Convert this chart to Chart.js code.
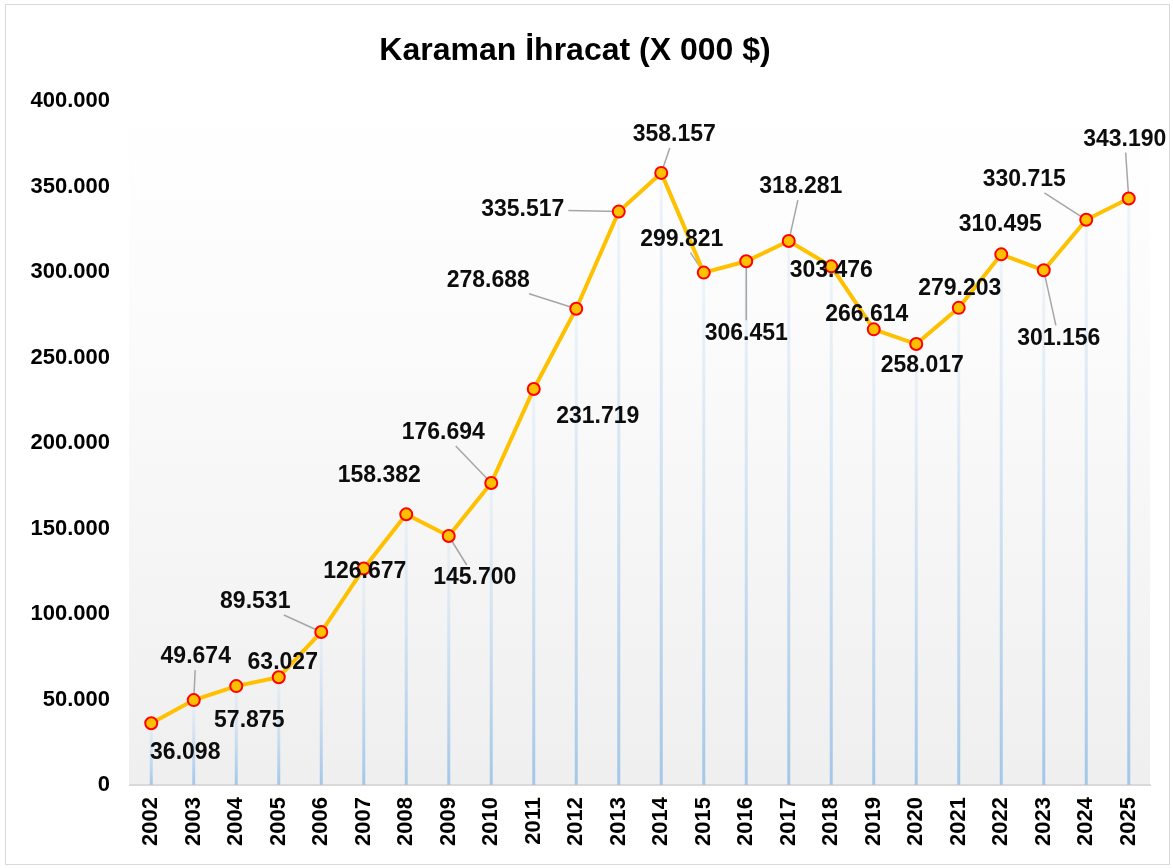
<!DOCTYPE html>
<html>
<head>
<meta charset="utf-8">
<script src="https://cdn.jsdelivr.net/npm/chart.js@4.4.1/dist/chart.umd.min.js"></script>
<style>
    html, body { margin: 0; padding: 0; background: #fff; }
    #wrap { position: absolute; left: 0; top: 0; width: 1173px; height: 868px; }
    #frame { position: absolute; left: 5px; top: 4px; width: 1165px; height: 861px; border: 1px solid #d9d9d9; box-sizing: border-box; pointer-events: none; }
    canvas { position: absolute; left: 0; top: 0; }
</style>
</head>
<body>
<div id="wrap">
    <canvas id="export-chart" width="1173" height="868"></canvas>
    <div id="frame"></div>
</div>
<script>
var years = ['2002', '2003', '2004', '2005', '2006', '2007', '2008', '2009', '2010', '2011', '2012', '2013',
             '2014', '2015', '2016', '2017', '2018', '2019', '2020', '2021', '2022', '2023', '2024', '2025'];
var exports = [36098, 49674, 57875, 63027, 89531, 126677, 158382, 145700, 176694, 231719, 278688, 335517,
               358157, 299821, 306451, 318281, 303476, 266614, 258017, 279203, 310495, 301156, 330715, 343190];
var yMin = 0;
var yMax = 400000;
var yStep = 50000;

// label placement (offset of label centre from its point) and whether a leader line is drawn
var labelOffsets = [[34, 29], [2, -43], [13, 35], [4, -15], [-66, -30], [1, 3], [-27, -39], [26, 42],
                    [-48, -50], [64, 28], [-88, -28], [-96, -2], [13, -38], [-22, -33], [0, 72], [12, -54],
                    [0, 4], [-7, -15], [6, 22], [1, -19], [-1, -30], [15, 68], [-62, -40], [-4, -59]];
var leaders = [0, 1, 0, 0, 1, 0, 0, 1, 1, 0, 1, 1, 1, 1, 1, 1, 0, 0, 0, 0, 0, 1, 1, 1];

function fmt(v) {
    return String(v).replace(/\B(?=(\d{3})+(?!\d))/g, '.');
}

var fontFamily = '"Liberation Sans", Arial, sans-serif';
var labelFont = 'bold 23px ' + fontFamily;

var plotBg = {
    id: 'plotBg',
    beforeDraw: function(chart) {
        var a = chart.chartArea, ctx = chart.ctx;
        var g = ctx.createLinearGradient(0, a.top, 0, a.bottom);
        g.addColorStop(0, '#ffffff');
        g.addColorStop(0.35, '#fbfbfb');
        g.addColorStop(1, '#efefef');
        ctx.save();
        ctx.fillStyle = g;
        ctx.fillRect(a.left - 1, a.top, a.right - a.left + 1, a.bottom - a.top);
        ctx.restore();
    }
};

var dropLines = {
    id: 'dropLines',
    beforeDatasetsDraw: function(chart) {
        var ctx = chart.ctx, meta = chart.getDatasetMeta(0), a = chart.chartArea;
        ctx.save();
        meta.data.forEach(function(pt) {
            var g = ctx.createLinearGradient(0, pt.y, 0, a.bottom);
            g.addColorStop(0, 'rgba(222,235,247,0.5)');
            g.addColorStop(1, '#a3c7e8');
            ctx.strokeStyle = g;
            ctx.lineWidth = 3;
            ctx.beginPath();
            ctx.moveTo(pt.x, pt.y);
            ctx.lineTo(pt.x, a.bottom);
            ctx.stroke();
        });
        // leader lines
        ctx.font = labelFont;
        ctx.strokeStyle = '#a6a6a6';
        ctx.lineWidth = 1.5;
        meta.data.forEach(function(pt, i) {
            if (!leaders[i]) return;
            var dx = labelOffsets[i][0], dy = labelOffsets[i][1];
            var w = ctx.measureText(fmt(exports[i])).width / 2 + 4;
            var h = 13;
            var t = Math.min(Math.abs(dx) > 0 ? w / Math.abs(dx) : 99, Math.abs(dy) > 0 ? h / Math.abs(dy) : 99);
            var sx = pt.x + dx - dx * t, sy = pt.y + dy - dy * t;
            ctx.beginPath();
            ctx.moveTo(sx, sy);
            ctx.lineTo(pt.x, pt.y);
            ctx.stroke();
        });
        ctx.restore();
    },
    afterDatasetsDraw: function(chart) {
        var ctx = chart.ctx, meta = chart.getDatasetMeta(0);
        ctx.save();
        ctx.font = labelFont;
        ctx.fillStyle = '#0d0d0d';
        ctx.textAlign = 'center';
        ctx.textBaseline = 'middle';
        meta.data.forEach(function(pt, i) {
            ctx.fillText(fmt(exports[i]), pt.x + labelOffsets[i][0], pt.y + labelOffsets[i][1]);
        });
        ctx.restore();
    }
};

var ec = document.getElementById('export-chart').getContext('2d');
var exportChart = new Chart(ec, {
    type: 'line',
    data: {
        labels: years,
        datasets: [{
            data: exports,
            borderColor: '#ffc000',
            borderWidth: 4,
            backgroundColor: '#ffc000',
            pointBackgroundColor: '#ffc000',
            pointBorderColor: '#ff0000',
            pointBorderWidth: 2,
            pointRadius: 6,
            tension: 0,
            clip: false
        }]
    },
    options: {
        responsive: false,
        animation: false,
        layout: { padding: { left: 0, right: 23, top: 0, bottom: 10 } },
        plugins: {
            legend: { display: false },
            tooltip: { enabled: false },
            title: {
                display: true,
                text: 'Karaman İhracat (X 000 $)',
                color: '#000',
                font: { family: fontFamily, size: 32, weight: 'bold' },
                padding: { top: 32, bottom: 31 }
            }
        },
        scales: {
            x: {
                offset: true,
                grid: { display: false, drawTicks: false, offset: true },
                border: { display: true, color: '#d9d9d9', width: 2 },
                ticks: {
                    color: '#000',
                    font: { family: fontFamily, size: 22, weight: 'bold' },
                    maxRotation: 90,
                    minRotation: 90,
                    padding: 12
                },
                afterFit: function(scale) { scale.height = 73; }
            },
            y: {
                min: yMin,
                max: yMax,
                grid: { display: false, drawTicks: false },
                border: { display: false },
                ticks: {
                    stepSize: yStep,
                    color: '#000',
                    font: { family: fontFamily, size: 22, weight: 'bold' },
                    padding: 20,
                    callback: function(v) { return fmt(v); }
                },
                afterFit: function(scale) { scale.width = 130; }
            }
        }
    },
    plugins: [plotBg, dropLines]
});
</script>
</body>
</html>
